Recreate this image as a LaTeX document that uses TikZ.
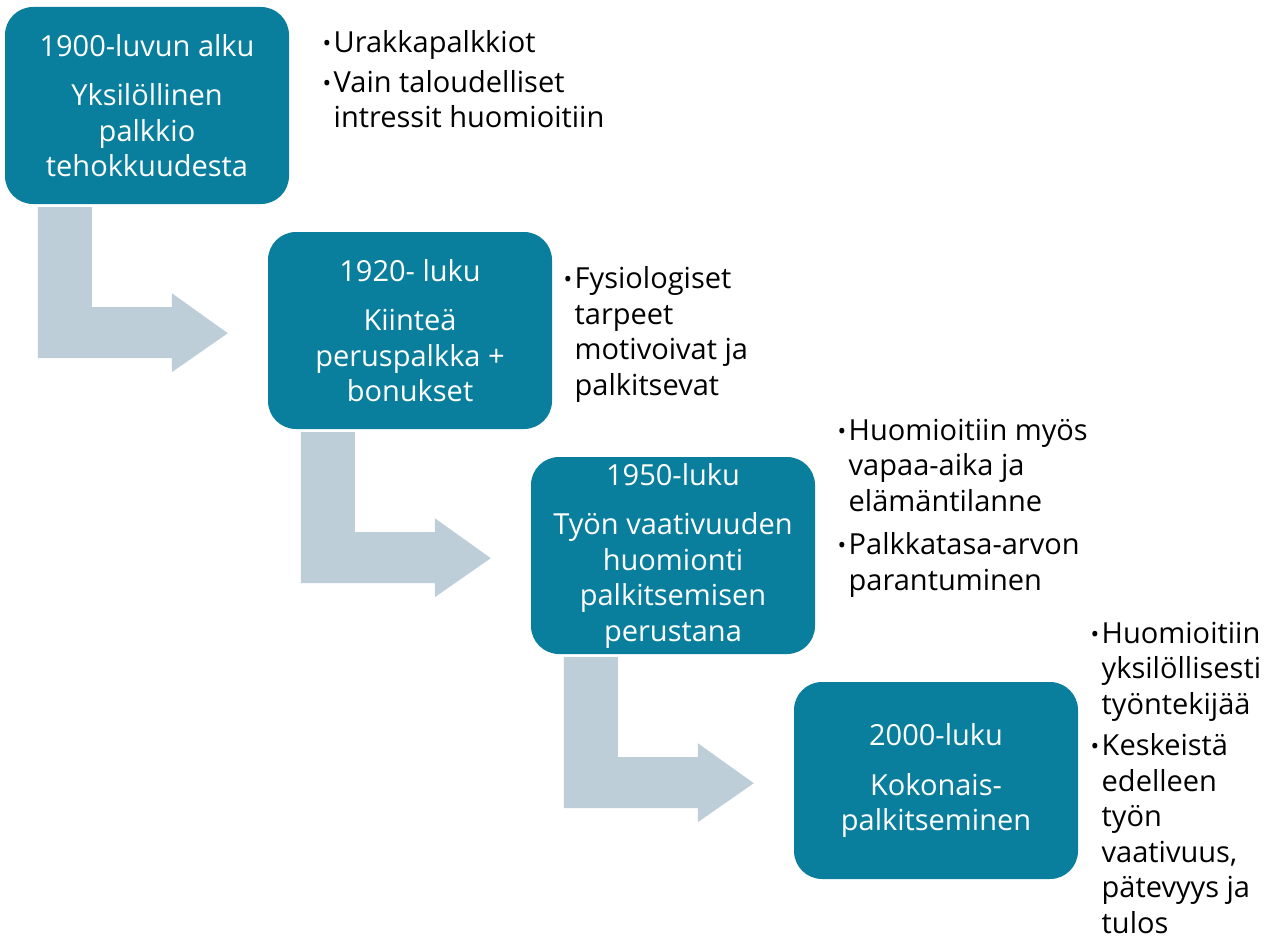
\documentclass[tikz,border=0pt]{standalone}
\usepackage{fontspec}
\setmainfont{Open Sans}
\usepackage{xcolor}
\definecolor{stageteal}{HTML}{0A7E9D}
\definecolor{bendgrey}{HTML}{BDCED8}
\newcommand{\bul}{\makebox[12.5pt][l]{\hspace*{1.5pt}\raisebox{1pt}{\fontsize{23}{23}\selectfont •}}}
\newcommand{\ind}{\hspace*{12.5pt}}

\begin{document}
\begin{tikzpicture}[x=1pt,y=-1pt,
    stage/.style={fill=stageteal,rounded corners=28pt,minimum width=284pt,minimum height=197pt,inner sep=0pt,text=white,align=center,font=\fontsize{29}{35.5}\selectfont},
    notes/.style={anchor=base west,inner sep=0pt,align=left,font=\fontsize{29}{35.5}\selectfont},
    bendarrow/.style={fill=bendgrey}]
    \useasboundingbox (0,0) rectangle (1274,939);

    % the four periods
    \node[stage] (y1900) at (147,105.5) {1900-luvun alku\\[14pt]Yksilöllinen\\palkkio\\tehokkuudesta};
    \node[stage] (y1920) at (410,330.5) {1920- luku\\[14pt]Kiinteä\\peruspalkka +\\bonukset};
    \node[stage] (y1950) at (673,555.5) {1950-luku\\[14pt]Työn vaativuuden\\huomionti\\palkitsemisen\\perustana};
    \node[stage] (y2000) at (936,780.5) {2000-luku\\[14pt]Kokonais-\\palkitseminen};

    % bent arrows between them
    \foreach \a/\b in {y1900/y1920,y1920/y1950,y1950/y2000}
        \fill[bendarrow] ([shift={(33,3)}]\a.south west) -- ++(54,0) -- ++(0,100) -- ++(80,0)
            -- ++(0,-14) -- ++(56,40) -- ++(-56,39) -- ++(0,-14) -- ++(-134,0) -- cycle;

    % bullet notes (placed by the baseline of their last line)
    \node[notes] (n1900) at (321,128) {\bul Urakkapalkkiot\\[4pt]\bul Vain taloudelliset\\\ind intressit huomioitiin};
    \node[notes] (n1920) at (562,395) {\bul Fysiologiset\\\ind tarpeet\\\ind motivoivat ja\\\ind palkitsevat};
    \node[notes] (n1950) at (836,590) {\bul Huomioitiin myös\\\ind vapaa-aika ja\\\ind elämäntilanne\\[8pt]\bul Palkkatasa-arvon\\\ind parantuminen};
    \node[notes] (n2000) at (1089,933) {\bul Huomioitiin\\\ind yksilöllisesti\\\ind työntekijää\\[6pt]\bul Keskeistä\\\ind edelleen\\\ind työn\\\ind vaativuus,\\\ind pätevyys ja\\\ind tulos};
\end{tikzpicture}
\end{document}
